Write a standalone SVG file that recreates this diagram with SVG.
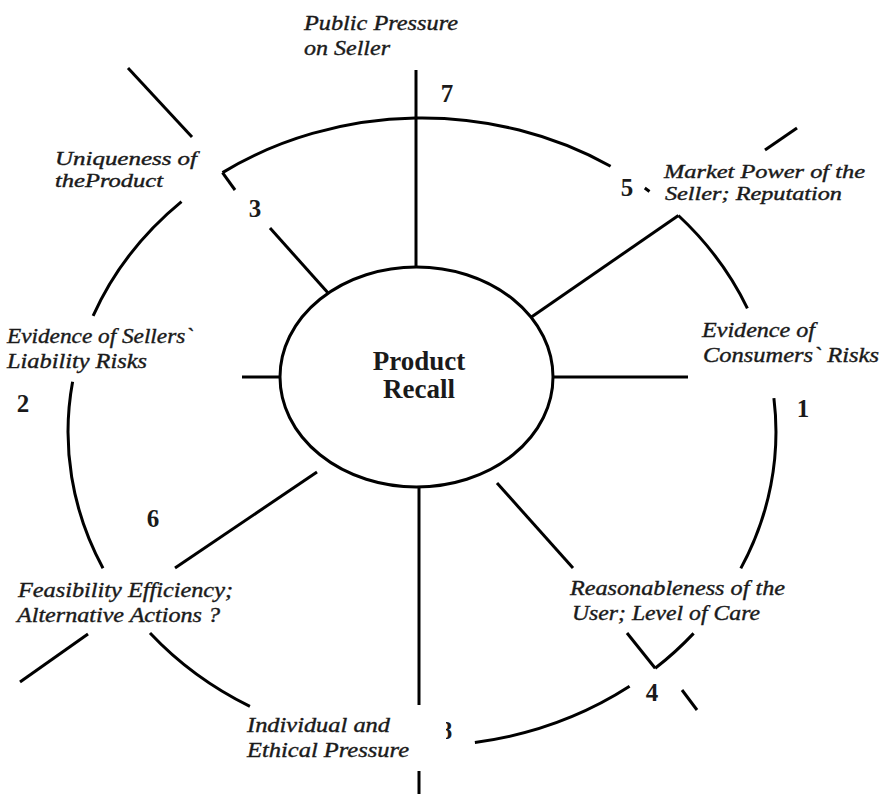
<svg xmlns="http://www.w3.org/2000/svg" width="883" height="794" viewBox="0 0 883 794">
<style>
.ln{stroke:#000;stroke-width:3;fill:none;stroke-linecap:butt}
.lbl{font-family:"Liberation Serif","Times New Roman",serif;font-style:italic;font-size:22px;fill:#1a1a1a;stroke:#1a1a1a;stroke-width:0.4}
.sm{font-size:19.5px}
.num{font-family:"Liberation Serif","Times New Roman",serif;font-weight:bold;font-size:25px;fill:#1a1a1a;text-anchor:middle}
.ctr{font-family:"Liberation Serif","Times New Roman",serif;font-weight:bold;font-size:27px;fill:#1a1a1a;text-anchor:middle}
</style>
<defs>
<clipPath id="clip8"><rect x="446" y="700" width="30" height="60"/></clipPath>
</defs>
<rect width="883" height="794" fill="#fff"/>
<g id="ring">
<path class="ln" d="M222.5,172.6 A354,314 0 0 1 610.6,166.3"/>
<path class="ln" d="M644.8,188 A354,314 0 0 1 649.5,191.5"/>
<path class="ln" d="M678.4,215.5 A354,314 0 0 1 747.4,308.3"/>
<path class="ln" d="M773.9,398.1 A354,314 0 0 1 740.8,568.4"/>
<path class="ln" d="M693.6,633.4 A354,314 0 0 1 655.2,668.3"/>
<path class="ln" d="M629.6,686.3 A354,314 0 0 1 474.9,742.5"/>
<path class="ln" d="M249.9,706.4 A354,314 0 0 1 150,633"/>
<path class="ln" d="M103,568.2 A354,314 0 0 1 72.6,381.8"/>
<path class="ln" d="M93.1,315.9 A354,314 0 0 1 181.5,201.6"/>
</g>
<g id="connectors">
<line class="ln" x1="416" y1="70" x2="416" y2="267"/>
<line class="ln" x1="329" y1="294" x2="270" y2="228"/>
<line class="ln" x1="235" y1="190" x2="222.5" y2="172.6"/>
<line class="ln" x1="192" y1="137" x2="128" y2="68"/>
<line class="ln" x1="530" y1="318" x2="678.4" y2="215.5"/>
<line class="ln" x1="765" y1="150" x2="797" y2="128"/>
<line class="ln" x1="553" y1="377" x2="688" y2="377"/>
<line class="ln" x1="242" y1="377" x2="280" y2="377"/>
<line class="ln" x1="497" y1="483" x2="573" y2="568"/>
<line class="ln" x1="627" y1="633" x2="655.2" y2="668.3"/>
<line class="ln" x1="682" y1="690" x2="697" y2="710"/>
<line class="ln" x1="419" y1="487" x2="419" y2="705"/>
<line class="ln" x1="419" y1="771" x2="419" y2="794"/>
<line class="ln" x1="317" y1="472" x2="175" y2="568"/>
<line class="ln" x1="88" y1="634" x2="20" y2="682"/>
</g>
<g id="center">
<ellipse cx="416.5" cy="377" rx="136.5" ry="110" fill="#fff" stroke="#000" stroke-width="3"/>
<text class="ctr" x="419" y="370">Product</text>
<text class="ctr" x="419" y="398">Recall</text>
</g>
<g id="n7">
<text class="lbl" x="304" y="30" textLength="154" lengthAdjust="spacingAndGlyphs">Public Pressure</text>
<text class="lbl" x="304" y="55" textLength="86" lengthAdjust="spacingAndGlyphs">on Seller</text>
<text class="num" x="447" y="102">7</text>
</g>
<g id="n3">
<text class="lbl sm" x="55" y="165" textLength="142" lengthAdjust="spacingAndGlyphs">Uniqueness of</text>
<text class="lbl sm" x="55" y="187" textLength="108" lengthAdjust="spacingAndGlyphs">theProduct</text>
<text class="num" x="255" y="217">3</text>
</g>
<g id="n5">
<text class="lbl sm" x="664" y="178" textLength="201" lengthAdjust="spacingAndGlyphs">Market Power of the</text>
<text class="lbl sm" x="665" y="200" textLength="177" lengthAdjust="spacingAndGlyphs">Seller; Reputation</text>
<text class="num" x="627" y="196">5</text>
</g>
<g id="n1">
<text class="lbl" x="702" y="337" textLength="113" lengthAdjust="spacingAndGlyphs">Evidence of</text>
<text class="lbl" x="703" y="362" textLength="176" lengthAdjust="spacingAndGlyphs">Consumers` Risks</text>
<text class="num" x="803" y="417">1</text>
</g>
<g id="n2">
<text class="lbl" x="7" y="343" textLength="186" lengthAdjust="spacingAndGlyphs">Evidence of Sellers`</text>
<text class="lbl" x="7" y="368" textLength="140" lengthAdjust="spacingAndGlyphs">Liability Risks</text>
<text class="num" x="23" y="412">2</text>
</g>
<g id="n6">
<text class="lbl" x="18" y="597" textLength="215" lengthAdjust="spacingAndGlyphs">Feasibility Efficiency;</text>
<text class="lbl" x="17" y="622" textLength="203" lengthAdjust="spacingAndGlyphs">Alternative Actions ?</text>
<text class="num" x="153" y="527">6</text>
</g>
<g id="n4">
<text class="lbl" x="570" y="595" textLength="215" lengthAdjust="spacingAndGlyphs">Reasonableness of the</text>
<text class="lbl" x="572" y="620" textLength="188" lengthAdjust="spacingAndGlyphs">User; Level of Care</text>
<text class="num" x="652" y="701">4</text>
</g>
<g id="n8">
<text class="lbl" x="247" y="732" textLength="143" lengthAdjust="spacingAndGlyphs">Individual and</text>
<text class="lbl" x="247" y="757" textLength="162" lengthAdjust="spacingAndGlyphs">Ethical Pressure</text>
<text class="num" x="446" y="739" clip-path="url(#clip8)">8</text>
</g>
</svg>
